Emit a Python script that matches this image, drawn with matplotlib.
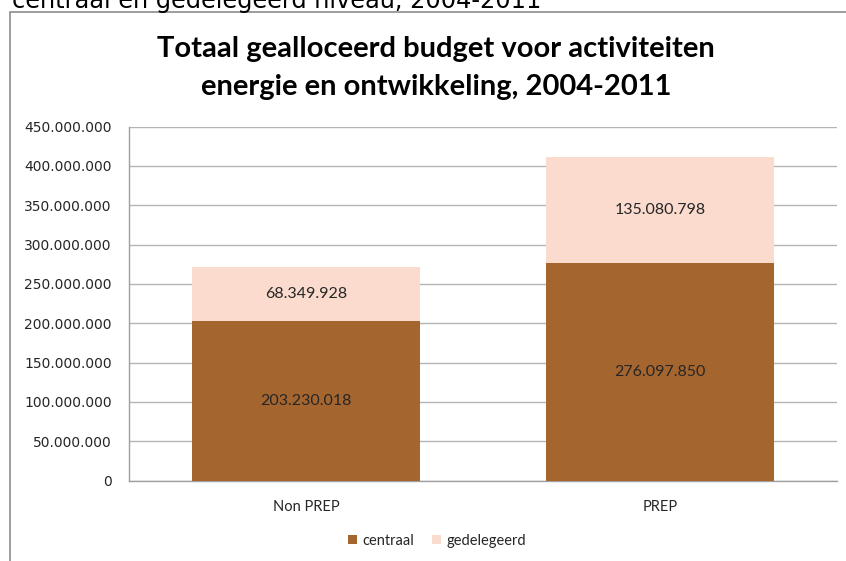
import matplotlib
matplotlib.use("Agg")
import matplotlib.pyplot as plt
from matplotlib.patches import Rectangle
from matplotlib.ticker import FuncFormatter

categories = ["Non PREP", "PREP"]
centraal = [203230018, 276097850]
gedelegeerd = [68349928, 135080798]
series_names = ["centraal", "gedelegeerd"]
title_lines = ["Totaal gealloceerd budget voor activiteiten", "energie en ontwikkeling, 2004-2011"]
top_text = "centraal en gedelegeerd niveau, 2004-2011"

C_BROWN = "#A5652E"
C_PINK = "#FADBCD"
TXT = "#262626"

def fmt(v):
    return f"{int(round(v)):,}".replace(",", ".")

fig = plt.figure(figsize=(8.46, 5.61), dpi=100)
fig.patch.set_facecolor("white")

# outer chart frame
fig.patches.append(Rectangle((10/846, -0.05), 1.0, 1 - 12/561 + 0.05, transform=fig.transFigure,
                             fill=False, edgecolor="#8C8C8C", linewidth=1.2))
fig.text(12/846, 1 - 8/561, top_text, ha="left", va="baseline", fontsize=17.3,
         family="DejaVu Sans", color="#000000")

ax = fig.add_axes([129/846, 1 - 480.7/561, 708/846, (480.7 - 126.5)/561])
x = list(range(len(categories)))
w = 0.645
b1 = ax.bar(x, centraal, width=w, color=C_BROWN, label=series_names[0], zorder=3)
b2 = ax.bar(x, gedelegeerd, width=w, bottom=centraal, color=C_PINK, label=series_names[1], zorder=3)

for i in x:
    ax.text(i, centraal[i] / 2, fmt(centraal[i]), ha="center", va="center",
            fontsize=11.5, family="Lato", color=TXT, zorder=4)
    ax.text(i, centraal[i] + gedelegeerd[i] / 2, fmt(gedelegeerd[i]), ha="center", va="center",
            fontsize=11.5, family="Lato", color=TXT, zorder=4)

ax.set_xlim(-0.5, 1.5)
ax.set_ylim(0, 450000000)
ax.set_yticks(range(0, 450000001, 50000000))
ax.yaxis.set_major_formatter(FuncFormatter(lambda v, p: fmt(v)))
ax.grid(axis="y", color="#B4B4B4", linewidth=1.0, zorder=0)
ax.set_axisbelow(True)
for s in ["top", "right"]:
    ax.spines[s].set_visible(False)
for s in ["left", "bottom"]:
    ax.spines[s].set_color("#A0A0A0")
    ax.spines[s].set_linewidth(1.0)
ax.tick_params(axis="y", length=0, pad=12.5, labelsize=10, labelcolor=TXT)
ax.tick_params(axis="x", length=0, pad=14, labelsize=10.5, labelcolor=TXT)
ax.set_xticks(x)
ax.set_xticklabels(categories, family="Lato")
for lab in ax.get_yticklabels():
    lab.set_family("DejaVu Sans")

fig.text(436/846, 1 - 49/561, title_lines[0], ha="center", va="center",
         fontsize=21, fontweight="bold", family="Lato", color="#000000")
fig.text(436/846, 1 - 87/561, title_lines[1], ha="center", va="center",
         fontsize=21, fontweight="bold", family="Lato", color="#000000")

leg = fig.legend(handles=[b1, b2], labels=series_names, loc="center",
                 bbox_to_anchor=(437/846, 1 - 541/561), ncol=2, frameon=False,
                 prop={"family": "Lato", "size": 10.5}, handlelength=0.6, handleheight=0.6,
                 handletextpad=0.4, columnspacing=1.2)
for t in leg.get_texts():
    t.set_color(TXT)

fig.savefig("out.png", dpi=100)
